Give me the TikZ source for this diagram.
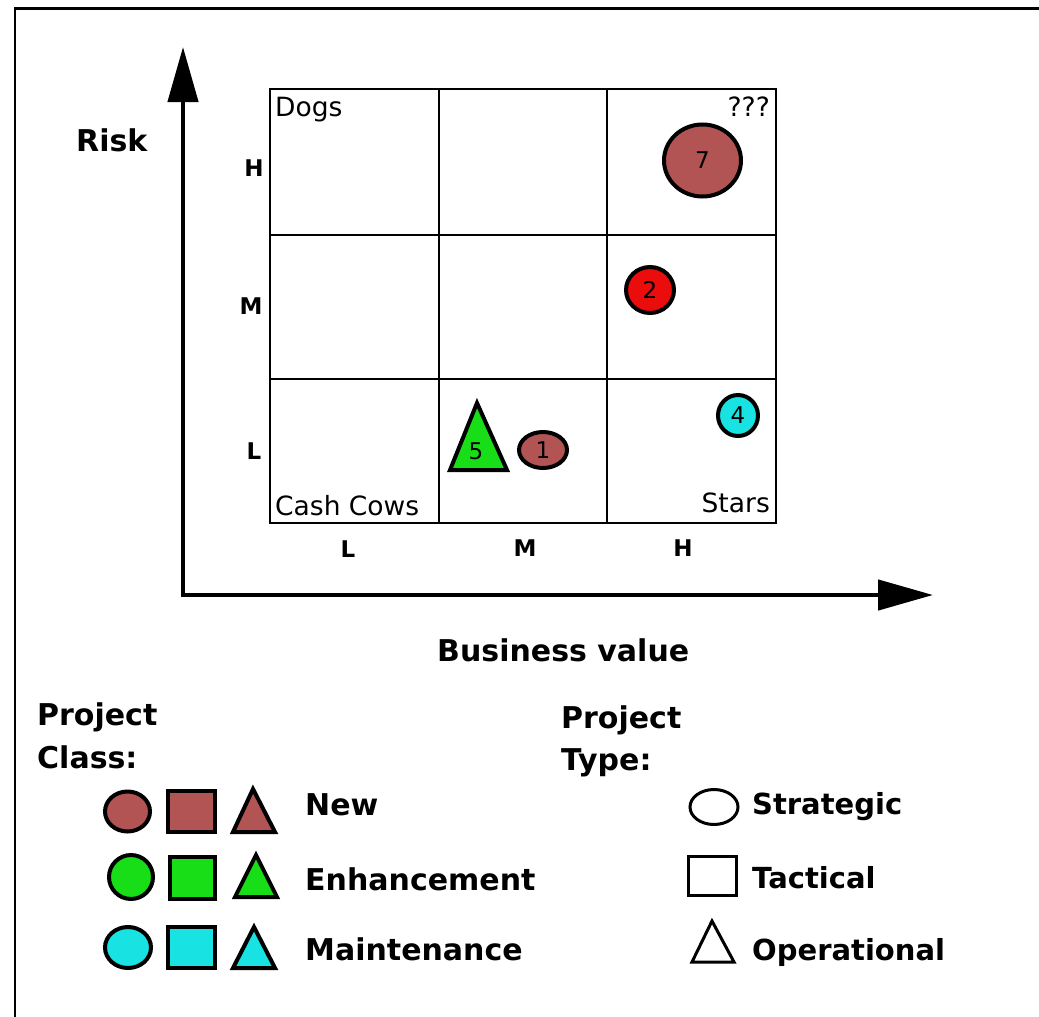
\documentclass[tikz,border=0pt]{standalone}
\usepackage{fontspec}
\setmainfont{DejaVu Sans}
\usetikzlibrary{arrows.meta,shapes.geometric}
\definecolor{newc}{RGB}{178,84,84}
\definecolor{redc}{RGB}{235,12,12}
\definecolor{grnc}{RGB}{24,222,24}
\definecolor{cync}{RGB}{24,226,226}
\tikzset{
  big/.style={font=\fontsize{30}{36}\selectfont\bfseries, inner sep=0pt},
  mid/.style={font=\fontsize{29}{34}\selectfont\bfseries, inner sep=0pt},
  lbl/.style={font=\fontsize{26.5}{30}\selectfont, inner sep=0pt},
  tick/.style={font=\fontsize{23}{27}\selectfont\bfseries, inner sep=0pt},
  num/.style={font=\fontsize{23}{26}\selectfont, inner sep=0pt},
  shp/.style={draw=black, line width=4pt, inner sep=0pt},
  lshp/.style={draw=black, line width=3pt, inner sep=0pt},
  ell/.style={ellipse, shp},
  sq/.style={rectangle, shp},
  axis/.style={line width=4.5pt, -{Triangle[length=55pt,width=30pt]}},
  gridline/.style={line width=2pt}
}
\begin{document}
\begin{tikzpicture}[x=1pt,y=-1pt]
\useasboundingbox (0,0) rectangle (1039,1017);
% frame
\draw[line width=2.5pt] (15,1017) -- (15,8.5) -- (1039,8.5);
% axes
\coordinate (origin) at (183,595);
\coordinate (ytip) at (183,47);
\coordinate (xtip) at (933,595);
\draw[axis] (origin) -- (ytip);
\draw[axis] ([xshift=-2.25pt]origin) -- (xtip);
\node[big, anchor=base west] (risk) at (76,151) {Risk};
\node[big, anchor=base west] (bv) at (437,661) {Business value};
% grid
\node[draw, gridline, minimum width=506pt, minimum height=434pt, anchor=north west, inner sep=0pt] (grid) at (269,88) {};
\draw[gridline] (439,88) -- (439,522);
\draw[gridline] (607,88) -- (607,522);
\draw[gridline] (269,235) -- (775,235);
\draw[gridline] (269,379) -- (775,379);
% tick labels
\node[tick] (rh) at (254,168) {H};
\node[tick] (rm) at (251,306) {M};
\node[tick] (rl) at (254,451) {L};
\node[tick] (cl) at (348,549) {L};
\node[tick] (cm) at (525,548) {M};
\node[tick] (ch) at (683,548) {H};
% quadrant labels
\node[lbl, anchor=base west] (dogs) at (275,116) {Dogs};
\node[lbl, anchor=base east] (qqq) at (770,116) {???};
\node[lbl, anchor=base west] (cows) at (275,515) {Cash Cows};
\node[lbl, anchor=base east] (stars) at (770,512) {Stars};
% bubbles
\node[ell, fill=newc, minimum width=77pt, minimum height=72pt, num] (p7) at (702.5,160.5) {7};
\node[ell, fill=redc, minimum width=48pt, minimum height=46pt, num] (p2) at (650,290) {2};
\node[ell, fill=cync, minimum width=40pt, minimum height=41pt, num] (p4) at (738,415.5) {4};
\node[ell, fill=newc, minimum width=48pt, minimum height=36pt, num] (p1) at (543,450) {1};
\draw[shp, fill=grnc] (450,470) -- (507,470) -- (477,403) -- cycle;
\node[num] (p5) at (476,451) {5};
% legend: project class
\node[big, anchor=base west] (pc1) at (37,725) {Project};
\node[big, anchor=base west] (pc2) at (37,768) {Class:};
\node[ell, fill=newc, minimum width=45pt, minimum height=40pt] (n1) at (127.5,811.5) {};
\node[sq, fill=newc, minimum width=47pt, minimum height=41pt] (n2) at (191.5,811.5) {};
\draw[shp, fill=newc] (233,832) -- (275,832) -- (253,789) -- cycle;
\node[big, anchor=base west] (tnew) at (305,815) {New};
\node[ell, fill=grnc, minimum width=44pt, minimum height=44pt] (e1) at (131,877) {};
\node[sq, fill=grnc, minimum width=45pt, minimum height=42pt] (e2) at (192.5,878) {};
\draw[shp, fill=grnc] (235,897) -- (277,897) -- (256,855) -- cycle;
\node[big, anchor=base west] (tenh) at (305,890) {Enhancement};
\node[ell, fill=cync, minimum width=46pt, minimum height=41pt] (m1) at (128,947.5) {};
\node[sq, fill=cync, minimum width=47pt, minimum height=41pt] (m2) at (191.5,947.5) {};
\draw[shp, fill=cync] (233,968) -- (275,968) -- (254,927) -- cycle;
\node[big, anchor=base west] (tmain) at (305,960) {Maintenance};
% legend: project type
\node[big, anchor=base west] (pt1) at (561,728) {Project};
\node[big, anchor=base west] (pt2) at (561,770) {Type:};
\node[ellipse, lshp, minimum width=48pt, minimum height=35pt] (s1) at (714,807) {};
\node[mid, anchor=base west] (tstr) at (752,814) {Strategic};
\node[rectangle, lshp, minimum width=48pt, minimum height=39pt] (s2) at (712.5,876) {};
\node[mid, anchor=base west] (ttac) at (752,888) {Tactical};
\draw[lshp] (692,962) -- (734,962) -- (712,921) -- cycle;
\node[mid, anchor=base west] (tope) at (752,960) {Operational};
\end{tikzpicture}
\end{document}
